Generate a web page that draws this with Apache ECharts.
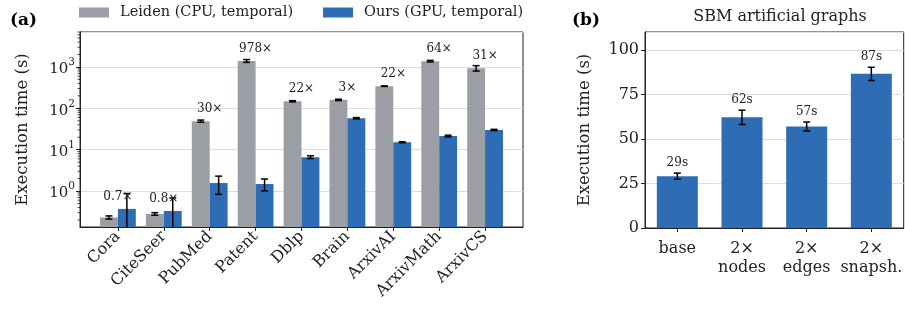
<!DOCTYPE html>
<html lang="en">
<head>
    <meta charset="UTF-8">
    <title>Execution time</title>
    <style>
        html, body { margin: 0; padding: 0; background: #fff; }
        #chart { width: 905px; height: 312px; }
    </style>
</head>
<body>
    <div id="chart"></div>
    <script src="https://cdn.jsdelivr.net/npm/echarts@6/dist/echarts.min.js"></script>
    <script>
    // (a) real graphs, log scale
    var categories = ['Cora', 'CiteSeer', 'PubMed', 'Patent', 'Dblp', 'Brain', 'ArxivAI', 'ArxivMath', 'ArxivCS'];
    var leidenTime = [0.23, 0.28, 49, 1400, 148, 160, 343, 1380, 935];
    var leidenStd = [0.02, 0.02, 3, 110, 5, 6, 5, 60, 140];
    var oursTime = [0.37, 0.33, 1.56, 1.48, 6.6, 57.6, 15.1, 21.4, 30];
    var oursStd = [0.5, 0.35, 0.73, 0.47, 0.5, 2, 0.4, 1, 1];
    var speedupLabels = ['0.7×', '0.8×', '30×', '978×', '22×', '3×', '22×', '64×', '31×'];
    var minorTicks = [0.2, 0.3, 0.4, 0.5, 0.6, 0.7, 0.8, 0.9, 2, 3, 4, 5, 6, 7, 8, 9,
        20, 30, 40, 50, 60, 70, 80, 90, 200, 300, 400, 500, 600, 700, 800, 900,
        2000, 3000, 4000, 5000, 6000, 7000];

    // (b) SBM artificial graphs
    var sbmCategories = ['base', '2×\nnodes', '2×\nedges', '2×\nsnapsh.'];
    var sbmTime = [29.1, 62.1, 57.0, 86.5];
    var sbmStd = [1.7, 4, 2.5, 3.7];
    var sbmLabels = ['29s', '62s', '57s', '87s'];

    var FONT = '"DejaVu Serif", serif';
    var GREY = '#9b9fa5';
    var BLUE = '#2e6db5';
    var LOG_MIN = 0.135, LOG_MAX = 7000;
    var X_MIN = -0.826, X_MAX = 8.826;
    var BAR_W = 0.39; // in x units, one category = 1

    var chart = echarts.init(document.getElementById('chart'), null, { renderer: 'canvas' });

    function barItem(offset) {
        return function (params, api) {
            var x = api.value(0) + offset;
            var a = api.coord([x - BAR_W / 2, api.value(1)]);
            var b = api.coord([x + BAR_W / 2, LOG_MIN]);
            return {
                type: 'rect',
                shape: { x: a[0], y: a[1], width: b[0] - a[0], height: b[1] - a[1] },
                style: { fill: api.visual('color') }
            };
        };
    }

    function errItem(offset) {
        return function (params, api) {
            var x = api.value(0) + offset;
            var lo = api.value(1), hi = api.value(2);
            var p1 = api.coord([x, lo > LOG_MIN ? lo : LOG_MIN]);
            var p2 = api.coord([x, hi]);
            var c = 3.5;
            var kids = [
                { type: 'line', shape: { x1: p1[0], y1: p1[1], x2: p2[0], y2: p2[1] }, style: { stroke: '#000', lineWidth: 1.5 } },
                { type: 'line', shape: { x1: p2[0] - c, y1: p2[1], x2: p2[0] + c, y2: p2[1] }, style: { stroke: '#000', lineWidth: 1.5 } }
            ];
            if (lo > LOG_MIN) {
                kids.push({ type: 'line', shape: { x1: p1[0] - c, y1: p1[1], x2: p1[0] + c, y2: p1[1] }, style: { stroke: '#000', lineWidth: 1.5 } });
            }
            return { type: 'group', children: kids };
        };
    }

    // minor log ticks on the left spine
    function minorTickItem(params, api) {
        var p = api.coord([X_MIN, api.value(0)]);
        return {
            type: 'line',
            shape: { x1: p[0] - 2.5, y1: p[1], x2: p[0], y2: p[1] },
            style: { stroke: '#222', lineWidth: 0.8 }
        };
    }

    function sbmErrItem(params, api) {
        var x = api.value(0);
        var p1 = api.coord([x, api.value(1)]);
        var p2 = api.coord([x, api.value(2)]);
        var c = 3.5;
        return {
            type: 'group', children: [
                { type: 'line', shape: { x1: p1[0], y1: p1[1], x2: p2[0], y2: p2[1] }, style: { stroke: '#000', lineWidth: 1.5 } },
                { type: 'line', shape: { x1: p2[0] - c, y1: p2[1], x2: p2[0] + c, y2: p2[1] }, style: { stroke: '#000', lineWidth: 1.5 } },
                { type: 'line', shape: { x1: p1[0] - c, y1: p1[1], x2: p1[0] + c, y2: p1[1] }, style: { stroke: '#000', lineWidth: 1.5 } },
                {
                    type: 'text', x: p2[0], y: p2[1] - 4,
                    style: { text: sbmLabels[params.dataIndex], fill: '#222', font: '12px ' + FONT, align: 'center', verticalAlign: 'bottom' }
                }
            ]
        };
    }

    function textItem(params, api) {
        var p = api.coord([api.value(0), api.value(1)]);
        return {
            type: 'text', x: p[0], y: p[1],
            style: { text: speedupLabels[params.dataIndex], fill: '#222', font: '12px ' + FONT, align: 'center', verticalAlign: 'middle' }
        };
    }

    var leidenData = [], oursData = [], leidenErr = [], oursErr = [], labelData = [];
    for (var i = 0; i < categories.length; i++) {
        leidenData.push([i, leidenTime[i]]);
        oursData.push([i, oursTime[i]]);
        leidenErr.push([i, leidenTime[i] - leidenStd[i], leidenTime[i] + leidenStd[i]]);
        oursErr.push([i, oursTime[i] - oursStd[i], oursTime[i] + oursStd[i]]);
        labelData.push([i, 2 * Math.max(leidenTime[i], oursTime[i])]);
    }
    var sbmErr = [];
    for (var j = 0; j < sbmTime.length; j++) {
        sbmErr.push([j, sbmTime[j] - sbmStd[j], sbmTime[j] + sbmStd[j]]);
    }
    var catIdx = categories.map(function (c, k) { return k; });

    option = {
        animation: false,
        textStyle: { fontFamily: FONT },
        title: {
            text: 'SBM artificial graphs',
            left: 775, top: 4, textAlign: 'center',
            textStyle: { fontFamily: FONT, fontSize: 16, fontWeight: 'normal', color: '#222' }
        },
        legend: {
            left: 79, top: 5, padding: 0, itemWidth: 30, itemHeight: 10, itemGap: 30, icon: 'rect',
            textStyle: { fontFamily: FONT, fontSize: 14.5, color: '#222', padding: [0, 0, 0, 6] },
            data: ['Leiden (CPU, temporal)', 'Ours (GPU, temporal)']
        },
        graphic: [
            { type: 'text', left: 10, top: 12, style: { text: '(a)', font: 'bold 17px ' + FONT, fill: '#000' } },
            { type: 'text', left: 572, top: 12, style: { text: '(b)', font: 'bold 17px ' + FONT, fill: '#000' } }
        ],
        grid: [
            { left: 80, top: 32, width: 443, height: 195, show: true, borderColor: '#222', borderWidth: 1, backgroundColor: 'transparent' },
            { left: 645, top: 32, width: 261, height: 196, show: true, borderColor: '#222', borderWidth: 1, backgroundColor: 'transparent' }
        ],
        xAxis: [
            {
                type: 'value', gridIndex: 0, min: X_MIN, max: X_MAX,
                axisLine: { show: true, onZero: false, lineStyle: { color: '#222' } },
                axisTick: { show: true, length: 4, customValues: catIdx, lineStyle: { color: '#222' } },
                axisLabel: {
                    customValues: catIdx, rotate: 45, margin: 7,
                    fontFamily: FONT, fontSize: 16, color: '#222',
                    formatter: function (v) { return categories[Math.round(v)]; }
                },
                splitLine: { show: false }
            },
            {
                type: 'category', gridIndex: 1, data: sbmCategories, boundaryGap: true,
                axisLine: { show: true, lineStyle: { color: '#222' } },
                axisTick: { show: true, length: 4, alignWithLabel: true, lineStyle: { color: '#222' } },
                axisLabel: { interval: 0, fontFamily: FONT, fontSize: 16, color: '#222', margin: 11, lineHeight: 19 },
                splitLine: { show: false }
            }
        ],
        yAxis: [
            {
                type: 'log', logBase: 10, gridIndex: 0, min: LOG_MIN, max: LOG_MAX, position: 'left',
                name: 'Execution time (s)', nameLocation: 'middle', nameGap: 49,
                nameTextStyle: { fontFamily: FONT, fontSize: 16.5, color: '#222' },
                axisLine: { show: true, onZero: false, lineStyle: { color: '#222' } },
                axisTick: { show: true, length: 4, lineStyle: { color: '#222' } },
                axisLabel: {
                    margin: 5, showMinLabel: false, showMaxLabel: false,
                    formatter: function (v) {
                        var e = Math.round(Math.log10(v));
                        if (Math.abs(Math.pow(10, e) - v) > 1e-6 * v) return '';
                        return '{b|10}{s|' + e + '}';
                    },
                    rich: {
                        b: { fontFamily: FONT, fontSize: 15, color: '#222', lineHeight: 20, verticalAlign: 'bottom' },
                        s: { fontFamily: FONT, fontSize: 10.5, color: '#222', lineHeight: 20, verticalAlign: 'top' }
                    }
                },
                splitLine: { show: true, lineStyle: { color: '#dddddd', width: 1 } }
            },
            {
                type: 'value', gridIndex: 1, min: 0, max: 110, interval: 25,
                name: 'Execution time (s)', nameLocation: 'middle', nameGap: 52,
                nameTextStyle: { fontFamily: FONT, fontSize: 16.5, color: '#222' },
                axisLine: { show: true, lineStyle: { color: '#222' } },
                axisTick: { show: true, length: 4, lineStyle: { color: '#222' } },
                axisLabel: { fontFamily: FONT, fontSize: 16, color: '#222', margin: 6, showMaxLabel: false },
                splitLine: { show: true, lineStyle: { color: '#dddddd', width: 1 } }
            }
        ],
        series: [
            {
                name: 'Leiden (CPU, temporal)', type: 'custom', xAxisIndex: 0, yAxisIndex: 0,
                itemStyle: { color: GREY }, renderItem: barItem(-BAR_W / 2), data: leidenData, z: 2
            },
            {
                name: 'Ours (GPU, temporal)', type: 'custom', xAxisIndex: 0, yAxisIndex: 0,
                itemStyle: { color: BLUE }, renderItem: barItem(BAR_W / 2), data: oursData, z: 2
            },
            {
                type: 'custom', xAxisIndex: 0, yAxisIndex: 0, clip: true,
                renderItem: errItem(-BAR_W / 2), data: leidenErr, z: 3, silent: true
            },
            {
                type: 'custom', xAxisIndex: 0, yAxisIndex: 0, clip: true,
                renderItem: errItem(BAR_W / 2), data: oursErr, z: 3, silent: true
            },
            {
                type: 'custom', xAxisIndex: 0, yAxisIndex: 0,
                renderItem: textItem, data: labelData, z: 4, silent: true
            },
            {
                type: 'custom', xAxisIndex: 0, yAxisIndex: 0,
                renderItem: minorTickItem, data: minorTicks.map(function (v) { return [v]; }),
                encode: { y: 0 }, z: 5, silent: true
            },
            {
                type: 'bar', xAxisIndex: 1, yAxisIndex: 1, barWidth: 41,
                itemStyle: { color: BLUE }, data: sbmTime, z: 2
            },
            {
                type: 'custom', xAxisIndex: 1, yAxisIndex: 1,
                renderItem: sbmErrItem, data: sbmErr, z: 3, silent: true
            }
        ]
    };
    chart.setOption(option);
    </script>
</body>
</html>
